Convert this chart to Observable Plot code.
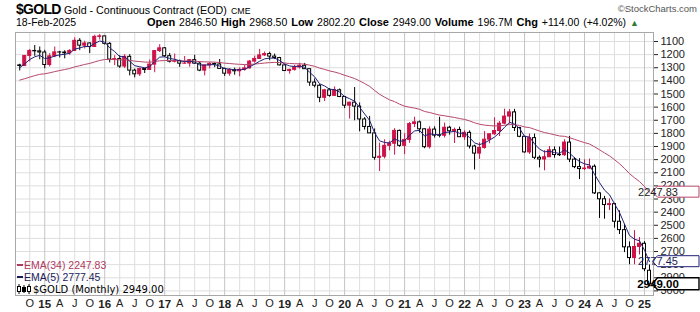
<!DOCTYPE html>
<html><head><meta charset="utf-8">
<script src="https://cdn.jsdelivr.net/npm/d3@7"></script>
<script src="https://cdn.jsdelivr.net/npm/@observablehq/plot@0.6"></script>
<style>
html,body{margin:0;padding:0;background:#fff;}
#wrap{position:relative;width:700px;height:312px;overflow:hidden;font-family:"Liberation Sans",Arial,sans-serif;color:#000;}
.t{position:absolute;white-space:nowrap;line-height:1;}
#chart{position:absolute;left:0;top:31px;}
#chart svg{overflow:visible;}
.dash{display:inline-block;width:6px;height:2px;vertical-align:middle;margin-right:1px;position:relative;top:-1px;}
</style></head><body>
<div id="wrap">
  <div class="t" style="left:16px;top:2px;font-weight:bold;font-size:14px;letter-spacing:-0.7px;">$GOLD</div>
  <div class="t" style="left:64px;top:4.5px;font-size:10.7px;">Gold - Continuous Contract (EOD)</div>
  <div class="t" style="left:231px;top:6.5px;font-size:8.8px;">CME</div>
  <div class="t" style="right:3px;top:4px;font-size:9.5px;color:#555;">©StockCharts.com</div>
  <div class="t" style="left:16px;top:17px;font-size:10.5px;">18-Feb-2025</div>
  <div class="t" style="left:147px;top:17px;font-size:10.5px;word-spacing:1px;"><b style="font-size:11px">Open</b> 2846.50 <b style="font-size:11px">High</b> 2968.50 <b style="font-size:11px">Low</b> 2802.20 <b style="font-size:11px">Close</b> 2949.00 <b style="font-size:11px">Volume</b> 196.7M <b style="font-size:11px">Chg</b> +114.00 (+4.02%) <span style="color:#2e7d32;font-size:9px">▲</span></div>
  <div id="chart"></div>
  <div class="t" style="left:17px;top:260px;font-size:10.5px;color:#b03a5e;"><span class="dash" style="background:#b03a5e"></span>EMA(34) 2247.83</div>
  <div class="t" style="left:17px;top:272px;font-size:10.5px;color:#1c1c5a;"><span class="dash" style="background:#1c1c5a"></span>EMA(5) 2777.45</div>
  <div class="t" style="left:17px;top:284px;font-size:10px;font-family:'DejaVu Sans',Verdana,sans-serif;">
    <svg width="14" height="10" style="vertical-align:-1px;margin-right:2px"><line x1="2" y1="0" x2="2" y2="10" stroke="#000"/><rect x="0.5" y="2.5" width="3" height="5" fill="#fff" stroke="#000"/><line x1="7" y1="1" x2="7" y2="9" stroke="#000"/><rect x="5.5" y="3.5" width="3" height="4" fill="#000" stroke="#000"/><line x1="12" y1="0" x2="12" y2="10" stroke="#000"/><rect x="10.5" y="2.5" width="3" height="5" fill="#fff" stroke="#000"/></svg>$GOLD (Monthly) 2949.00</div>
</div>
<script>
// Monthly bars, Aug 2014 (index 0) .. Feb 2025 (index 126)
const open = [
  1282,1287,1210,1172,1175,1184,1279,1213,1183,1184,
  1190,1172,1095,1132,1115,1142,1065,1061,1118,1238,
  1234,1291,1217,1322,1350,1309,1317,1276,1173,1152,
  1212,1254,1249,1269,1268,1242,1269,1322,1283,1271,
  1275,1309,1345,1318,1327,1316,1305,1253,1233,1206,
  1196,1215,1226,1282,1325,1316,1298,1285,1311,1413,
  1437,1529,1472,1514,1472,1523,1589,1566,1596,1694,
  1751,1800,1986,1978,1895,1879,1781,1895,1850,1729,
  1716,1769,1905,1771,1817,1818,1757,1784,1774,1829,
  1796,1900,1954,1911,1848,1807,1782,1726,1672,1640,
  1759,1826,1945,1836,1986,1999,1982,1929,1965,1966,
  1870,2000,2057,2072,2068,2054,2257,2302,2346,2339,
  2473,2537,2668,2750,2665,2641,2846.5];
const high = [
  1324,1288,1256,1213,1239,1308,1294,1224,1225,1232,
  1205,1175,1170,1157,1192,1143,1089,1127,1263,1284,
  1305,1306,1362,1377,1367,1344,1319,1338,1184,1221,
  1264,1263,1297,1273,1296,1275,1330,1362,1309,1299,
  1310,1366,1365,1357,1369,1326,1309,1265,1236,1215,
  1246,1238,1286,1326,1349,1326,1310,1312,1442,1453,
  1566,1557,1524,1516,1528,1611,1691,1704,1788,1775,
  1800,2005,2090,1994,1933,1966,1906,1962,1876,1756,
  1799,1917,1919,1836,1834,1835,1814,1877,1831,1853,
  1919,2079,1998,1920,1879,1815,1824,1735,1729,1786,
  1833,1950,1960,2000,2063,2085,1983,1989,1976,1975,
  2022,2069,2152,2084,2075,2266,2448,2454,2388,2522,
  2570,2708,2801,2801,2726,2853,2968.5];
const low = [
  1273,1206,1161,1131,1142,1167,1192,1142,1175,1170,
  1162,1072,1078,1098,1111,1052,1046,1061,1108,1208,
  1208,1200,1200,1310,1303,1305,1241,1171,1124,1146,
  1191,1196,1242,1214,1238,1205,1255,1280,1261,1264,
  1237,1303,1307,1303,1301,1282,1245,1211,1160,1180,
  1182,1196,1221,1277,1311,1281,1266,1267,1311,1385,
  1428,1465,1458,1446,1462,1518,1563,1451,1568,1680,
  1671,1766,1874,1849,1860,1764,1775,1803,1717,1677,
  1706,1766,1750,1750,1677,1722,1746,1760,1753,1780,
  1781,1890,1872,1786,1805,1681,1710,1615,1618,1617,
  1754,1823,1805,1805,1972,1932,1900,1903,1904,1848,
  1823,1984,1993,2002,1996,2040,2253,2280,2299,2333,
  2390,2494,2627,2541,2594,2625,2802.2];
const close = [
  1287,1210,1172,1175,1184,1279,1213,1183,1184,1190,
  1172,1095,1132,1115,1142,1065,1061,1118,1238,1234,
  1291,1217,1322,1350,1309,1317,1276,1173,1152,1212,
  1254,1249,1269,1268,1242,1269,1322,1283,1271,1275,
  1309,1345,1318,1327,1316,1305,1253,1233,1206,1196,
  1215,1226,1282,1325,1316,1298,1285,1311,1413,1437,
  1529,1472,1514,1472,1523,1589,1566,1596,1694,1751,
  1800,1986,1978,1895,1879,1781,1895,1850,1729,1716,
  1769,1905,1771,1817,1818,1757,1784,1774,1829,1796,
  1900,1954,1911,1848,1807,1782,1726,1672,1640,1759,
  1826,1945,1836,1986,1999,1982,1929,1965,1966,1870,
  2000,2057,2072,2068,2054,2257,2302,2346,2339,2473,
  2537,2668,2750,2665,2641,2835,2949];
const ema34 = [
  1394,1383.5,1371.4,1360.2,1350.1,1346.0,1338.4,1329.5,1321.2,1313.7,
  1305.6,1293.6,1284.4,1274.7,1267.1,1255.6,1244.5,1237.3,1237.3,1237.1,
  1240.2,1238.9,1243.6,1249.7,1253.1,1256.8,1257.9,1253.0,1247.2,1245.2,
  1245.7,1245.9,1247.2,1248.4,1248.0,1249.2,1253.4,1255.1,1256.0,1257.1,
  1260.1,1265.0,1268.0,1271.4,1273.9,1275.7,1274.4,1272.0,1268.2,1264.1,
  1261.3,1259.3,1260.6,1264.3,1267.3,1269.1,1270.0,1272.3,1280.3,1289.3,
  1303.0,1312.7,1324.2,1332.6,1343.5,1357.5,1369.4,1382.3,1400.1,1420.2,
  1441.9,1473.0,1501.9,1524.4,1544.7,1558.2,1577.4,1593.0,1600.8,1607.4,
  1616.6,1633.1,1641.0,1651.1,1660.6,1666.1,1672.8,1678.6,1687.2,1693.4,
  1705.2,1719.4,1730.3,1737.0,1741.0,1743.3,1742.3,1738.3,1732.7,1734.2,
  1739.4,1751.1,1756.0,1769.1,1782.2,1793.6,1801.3,1810.7,1819.6,1822.5,
  1832.6,1845.4,1858.3,1870.3,1880.8,1902.3,1925.1,1949.2,1971.5,2000.2,
  2030.9,2067.3,2106.3,2138.2,2166.9,2205.1,2247.83];
const ema5 = [
  1300,1270.0,1237.3,1216.5,1205.7,1230.1,1224.4,1210.6,1201.7,1197.8,
  1189.2,1157.8,1149.2,1137.8,1139.2,1114.5,1096.7,1103.8,1148.5,1177.0,
  1215.0,1215.7,1251.1,1284.1,1292.4,1300.6,1292.4,1252.6,1219.1,1216.7,
  1229.1,1235.7,1246.8,1253.9,1249.9,1256.3,1278.2,1279.8,1276.9,1276.3,
  1287.2,1306.5,1310.3,1315.9,1315.9,1312.3,1292.5,1272.7,1250.5,1232.3,
  1226.5,1226.3,1244.9,1271.6,1286.4,1290.3,1288.5,1296.0,1335.0,1369.0,
  1422.3,1438.9,1463.9,1466.6,1485.4,1519.9,1535.3,1555.5,1601.7,1651.5,
  1701.0,1796.0,1856.7,1869.5,1872.7,1842.1,1859.7,1856.5,1814.0,1781.3,
  1777.2,1819.8,1803.5,1808.0,1811.3,1793.2,1790.1,1784.7,1799.5,1798.3,
  1832.2,1872.8,1885.5,1873.0,1851.0,1828.0,1794.0,1753.3,1715.5,1730.0,
  1762.0,1823.0,1827.3,1880.2,1919.8,1940.5,1936.7,1946.1,1952.7,1925.1,
  1950.1,1985.7,2014.5,2032.3,2039.5,2112.0,2175.3,2232.2,2267.8,2336.2,
  2403.1,2491.4,2577.6,2606.7,2618.1,2690.4,2777.45];
const yTicks = [1100,1200,1300,1400,1500,1600,1700,1800,1900,2000,2100,2200,2300,2400,2500,2600,2700,2800,2900,3000];
const xTickLabels = ["O","15","A","J","O","16","A","J","O","17","A","J","O","18","A","J","O","19","A","J","O","20","A","J","O","21","A","J","O","22","A","J","O","23","A","J","O","24","A","J","O","25"];

const RED = "#cc1448", BLACK = "#000", C34 = "#b8476a", C5 = "#202078";

const bars = close.map((c, i) => ({
  i, open: open[i], high: high[i], low: low[i], close: c,
  hollow: c >= open[i],
  color: (i === 0 ? c >= open[i] : c >= close[i - 1]) ? BLACK : RED
}));
const lines = close.map((c, i) => ({i, ema34: ema34[i], ema5: ema5[i]}));

const xTickPos = xTickLabels.map((_, k) => 2 + 3 * k);
const labelAt = new Map(xTickPos.map((p, k) => [p, xTickLabels[k]]));
const isYear = s => /^\d+$/.test(s);
const yearTicks = xTickPos.filter(p => isYear(labelAt.get(p)));
const monthTicks = xTickPos.filter(p => !isYear(labelAt.get(p)));

const last = close.length - 1;
const tagItems = [
  {value: ema34[last], color: C34, text: ema34[last].toFixed(2), bold: false},
  {value: ema5[last], color: C5, text: ema5[last].toFixed(2), bold: false},
  {value: close[last], color: BLACK, text: close[last].toFixed(2), bold: true}
];

function valueTags(index, scales, values, dimensions) {
  const g = d3.create("svg:g");
  const x0 = dimensions.width - dimensions.marginRight;
  const right = dimensions.width - 1;
  for (const t of tagItems) {
    const y = scales.y(t.value);
    const h = t.bold ? 6 : 5.5;
    const tip = x0 - 0.5;
    g.append("path")
      .attr("d", `M${tip},${y}L${tip + 5},${y - h}L${right},${y - h}L${right},${y + h}L${tip + 5},${y + h}Z`)
      .attr("fill", "white").attr("stroke", t.color).attr("stroke-width", t.bold ? 1.4 : 1);
    g.append("text")
      .attr("x", tip + 5.5).attr("y", y).attr("dy", "0.36em")
      .attr("font-size", t.bold ? 11.5 : 11)
      .attr("font-weight", t.bold ? "bold" : "normal")
      .attr("fill", t.bold ? "#000" : t.color === C5 ? "#1c1c5a" : "#222")
      .text(t.text);
  }
  return g.node();
}

const chart = Plot.plot({
  width: 700, height: 281,
  marginTop: 1, marginBottom: 17, marginLeft: 15, marginRight: 47,
  style: {fontFamily: "Liberation Sans, Arial, sans-serif", fontSize: "11px", background: "transparent", overflow: "visible", color: "#222"},
  x: {type: "linear", domain: [-0.85, 126.8], axis: null, label: null},
  y: {type: "linear", domain: [1031.5, 3035], reverse: true, axis: null, label: null},
  marks: [
    Plot.ruleY(yTicks, {stroke: "#dedede", strokeWidth: 1}),
    Plot.ruleX(monthTicks, {stroke: "#dedede", strokeWidth: 1}),
    Plot.ruleX(yearTicks, {stroke: "#c4c4c4", strokeWidth: 1}),
    Plot.frame({stroke: "#a8a8a8"}),
    Plot.ruleX(bars, {x: "i", y1: "low", y2: "high", stroke: "color", strokeWidth: 1}),
    Plot.rect(bars, {
      x1: d => d.i - 0.5, x2: d => d.i + 0.5, y1: "open", y2: "close",
      insetLeft: 1, insetRight: 1,
      fill: d => d.hollow ? "white" : d.color, stroke: "color", strokeWidth: 1
    }),
    Plot.line(lines, {x: "i", y: "ema34", stroke: C34, strokeWidth: 1}),
    Plot.line(lines, {x: "i", y: "ema5", stroke: C5, strokeWidth: 1}),
    Plot.axisX({ticks: monthTicks, tickFormat: d => labelAt.get(d), tickSize: 0, tickPadding: 4, fontSize: 11, label: null}),
    Plot.axisX({ticks: yearTicks, tickFormat: d => labelAt.get(d), tickSize: 0, tickPadding: 4, fontSize: 11.5, fontWeight: "bold", label: null}),
    Plot.axisY({anchor: "right", ticks: yTicks, tickFormat: d => String(d), tickSize: 4, tickPadding: 3, fontSize: 11, label: null}),
    valueTags
  ]
});
document.getElementById("chart").appendChild(chart);
</script>
</body></html>
